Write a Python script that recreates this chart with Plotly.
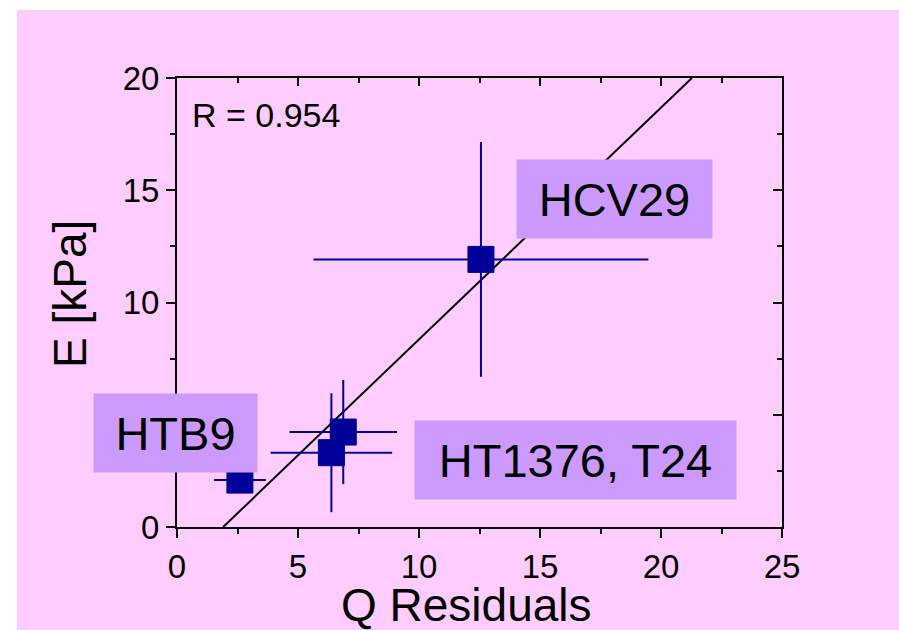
import plotly.graph_objects as go

# ---- data ----
cell_lines = ["HTB9", "HT1376", "T24", "HCV29"]
q_residuals = [2.6, 6.38, 6.87, 12.56]
q_err = [1.07, 2.51, 2.22, 6.92]
e_kpa = [2.09, 3.31, 4.23, 11.92]
e_err = [0.3, 2.65, 2.32, 5.23]
fit_slope = 1.0325
fit_intercept = -1.97
r_value = 0.954

x_ticks = [0, 5, 10, 15, 20, 25]
y_ticks = [0, 5, 10, 15, 20]

label_texts = ["HTB9", "HT1376, T24", "HCV29"]

PINK = "#FFCCFF"
BOX = "#CC99FF"
BLUE = "#000099"
FONT = "Liberation Sans, Arial, sans-serif"

# fit line limited to the visible y range
y_lo, y_hi = 0, 20
fit_x = [(y_lo - fit_intercept) / fit_slope, (y_hi - fit_intercept) / fit_slope]
fit_y = [fit_slope * v + fit_intercept for v in fit_x]

fig = go.Figure()
fig.add_trace(go.Scatter(x=fit_x, y=fit_y, mode="lines",
                         line=dict(color="black", width=2), showlegend=False,
                         hoverinfo="skip"))
fig.add_trace(go.Scatter(
    x=q_residuals, y=e_kpa, mode="markers", text=cell_lines,
    marker=dict(symbol="square", size=26, color=BLUE, line=dict(color=BLUE, width=1)),
    error_x=dict(type="data", array=q_err, color=BLUE, thickness=2, width=0),
    error_y=dict(type="data", array=e_err, color=BLUE, thickness=2, width=0),
    showlegend=False))

# dummy trace for top/right mirrored axes with inside ticks
fig.add_trace(go.Scatter(x=[None], y=[None], xaxis="x2", yaxis="y2", showlegend=False))

axis_common = dict(showgrid=False, zeroline=False, showline=True, linecolor="black",
                   linewidth=2, tickwidth=2, tickcolor="black")

fig.update_layout(
    width=899, height=630,
    paper_bgcolor=PINK, plot_bgcolor=PINK,
    margin=dict(l=177, r=117, t=78, b=103),
    font=dict(family=FONT, color="black"),
    xaxis=dict(range=[0, 25], tickvals=x_ticks, ticks="outside", ticklen=9,
               tickfont=dict(size=33, family=FONT),
               minor=dict(ticks="outside", dtick=2.5, ticklen=5, tickwidth=2, tickcolor="black"),
               **axis_common),
    yaxis=dict(range=[0, 20], tickvals=y_ticks, ticks="outside", ticklen=9,
               tickfont=dict(size=33, family=FONT),
               minor=dict(ticks="outside", dtick=2.5, ticklen=5, tickwidth=2, tickcolor="black"),
               **axis_common),
    xaxis2=dict(range=[0, 25], overlaying="x", side="top", anchor="y", tickvals=x_ticks,
                ticks="inside", ticklen=8, showticklabels=False,
                minor=dict(ticks="inside", dtick=2.5, ticklen=5, tickwidth=2, tickcolor="black"),
                **axis_common),
    yaxis2=dict(range=[0, 20], overlaying="y", side="right", anchor="x", tickvals=y_ticks,
                ticks="inside", ticklen=9, showticklabels=False,
                minor=dict(ticks="inside", dtick=2.5, ticklen=5, tickwidth=2, tickcolor="black"),
                **axis_common),
)

shapes = [
    dict(type="rect", xref="paper", yref="paper", x0=-0.5, x1=(17 - 177) / 605,
         y0=-0.5, y1=1.5, fillcolor="white", line=dict(width=0), layer="below"),
    dict(type="rect", xref="paper", yref="paper", x0=-0.5, x1=1.5,
         y0=1 + (78 - 10) / 449, y1=1.5, fillcolor="white", line=dict(width=0), layer="below"),
]
fig.update_layout(shapes=shapes)

annotations = [
    dict(text=f"R = {r_value:.3f}", xref="paper", yref="paper", x=0.0215, y=0.918,
         xanchor="left", yanchor="middle", showarrow=False, font=dict(size=34)),
    dict(text="Q Residuals", xref="paper", yref="paper", x=(466 - 177) / 605, y=-0.1737,
         xanchor="center", yanchor="middle", showarrow=False, font=dict(size=46)),
    dict(text="E [kPa]", xref="paper", yref="paper", x=-0.1769, y=0.519, textangle=-90,
         xanchor="center", yanchor="middle", showarrow=False, font=dict(size=46)),
]
box_specs = [
    (label_texts[0], 175.5, 433, 163),
    (label_texts[1], 575.5, 460, 321),
    (label_texts[2], 614.5, 199, 195),
]
for txt, cx, cy, w in box_specs:
    annotations.append(dict(
        text=txt, xref="paper", yref="paper",
        x=(cx - 177) / 605, y=1 - (cy - 78) / 449,
        xanchor="center", yanchor="middle", showarrow=False,
        width=w, height=78, borderpad=0, bgcolor=BOX,
        font=dict(size=47)))
fig.update_layout(annotations=annotations)

fig.write_html(
    "out.html",
    config={"displayModeBar": False},
    post_script=("document.body.style.margin='0px';document.body.style.padding='0px';"
                 "document.body.style.overflow='hidden';"
                 "document.documentElement.style.overflow='hidden';"
                 "document.body.style.background='" + PINK + "';"
                 "document.documentElement.style.background='" + PINK + "';"),
)
